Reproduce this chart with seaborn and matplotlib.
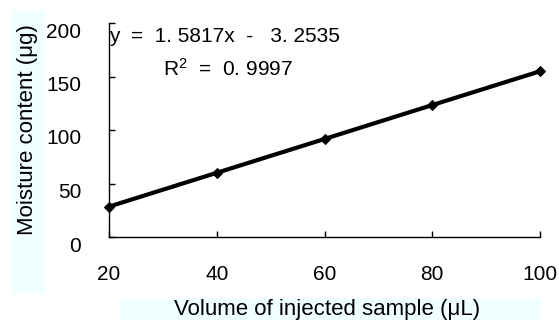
import pandas as pd
import seaborn as sns
import matplotlib.pyplot as plt
from matplotlib.patches import Rectangle
from matplotlib.transforms import ScaledTranslation

# Data
volume = [20, 40, 60, 80, 100]
moisture = [28.4, 60.0, 91.6, 123.3, 154.9]
y_ticks = [0, 50, 100, 150, 200]
x_ticks = [20, 40, 60, 80, 100]

df = pd.DataFrame({'volume': volume, 'moisture': moisture})

sns.set_style('white')
plt.rcParams['font.family'] = ['Liberation Sans', 'DejaVu Sans']
plt.rcParams['text.color'] = 'black'
plt.rcParams['axes.labelcolor'] = 'black'
plt.rcParams['xtick.color'] = 'black'
plt.rcParams['ytick.color'] = 'black'
plt.rcParams['mathtext.fontset'] = 'custom'
plt.rcParams['mathtext.rm'] = 'Liberation Sans'
plt.rcParams['mathtext.it'] = 'Liberation Sans'

fig = plt.figure(figsize=(5.59, 3.2), dpi=100)
ax = fig.add_axes([109 / 559, 83 / 320, 431 / 559, 214 / 320])

# Light cyan panels behind the axis titles
fig.patches.append(Rectangle((12 / 559, 27 / 320), 32 / 559, 283 / 320,
                             transform=fig.transFigure, color='#f0ffff', zorder=-5))
fig.patches.append(Rectangle((121 / 559, 0), 419 / 559, 22 / 320,
                             transform=fig.transFigure, color='#f0ffff', zorder=-5))

sns.lineplot(data=df, x='volume', y='moisture', ax=ax, color='black',
             linewidth=3, marker='D', markersize=5, markeredgecolor='black',
             clip_on=False)

ax.set_xlim(20, 100)
ax.set_ylim(0, 200)
ax.set_xticks(x_ticks)
ax.set_yticks(y_ticks)
ax.tick_params(direction='in', length=4, width=1, labelsize=15, pad=20,
               bottom=True, left=True, color='black', labelcolor='black')

for side in ['top', 'right']:
    ax.spines[side].set_visible(False)
for side in ['left', 'bottom']:
    ax.spines[side].set_color('black')
    ax.spines[side].set_linewidth(1)

# shift y tick labels slightly downward like the original
offset = ScaledTranslation(0, -7 / 100, fig.dpi_scale_trans)
for lab in ax.get_yticklabels():
    lab.set_transform(lab.get_transform() + offset)

ax.set_xlabel('Volume of injected sample (μL)', fontsize=16)
ax.set_ylabel('Moisture content (μg)', fontsize=16)
ax.xaxis.set_label_coords(0.506, -0.341)
ax.yaxis.set_label_coords(-0.188, 0.5)
ax.xaxis.label.set_verticalalignment('center')
ax.yaxis.label.set_verticalalignment('center')

ax.text(0.0, 0.935, 'y  =  1. 5817x  -   3. 2535', transform=ax.transAxes,
        fontsize=15, va='center', ha='left')
ax.text(0.125, 0.785, 'R$^2$  =  0. 9997', transform=ax.transAxes,
        fontsize=15, va='center', ha='left')

fig.savefig('out.png', dpi=100)
